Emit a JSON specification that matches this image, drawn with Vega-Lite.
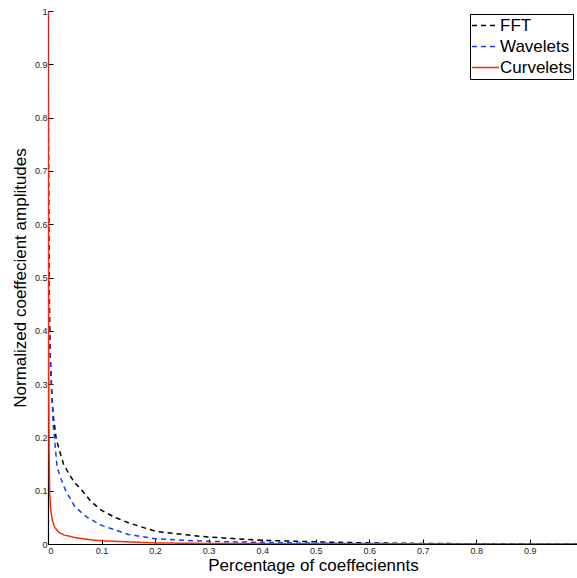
{
  "$schema": "https://vega.github.io/schema/vega-lite/v6.json",
  "autosize": {"type": "none"},
  "padding": {"left": 48, "top": 11, "right": 0, "bottom": 34},
  "width": 530,
  "height": 533,
  "background": "white",
  "config": {
    "view": {"stroke": null},
    "font": "Liberation Sans",
    "axis": {"grid": false, "domainColor": "#000", "tickColor": "#000", "labelColor": "#222", "titleColor": "#000", "labelFont": "Liberation Sans", "titleFont": "Liberation Sans", "titleFontWeight": "normal", "domainWidth": 1.2, "tickWidth": 1}
  },
  "data": {"values": [
    {"x": 0, "y": 1, "s": "FFT"},
    {"x": 0.001, "y": 0.7, "s": "FFT"},
    {"x": 0.002, "y": 0.5, "s": "FFT"},
    {"x": 0.004, "y": 0.36, "s": "FFT"},
    {"x": 0.007, "y": 0.28, "s": "FFT"},
    {"x": 0.01, "y": 0.24, "s": "FFT"},
    {"x": 0.015, "y": 0.2, "s": "FFT"},
    {"x": 0.02, "y": 0.18, "s": "FFT"},
    {"x": 0.029, "y": 0.15, "s": "FFT"},
    {"x": 0.04, "y": 0.13, "s": "FFT"},
    {"x": 0.05, "y": 0.115, "s": "FFT"},
    {"x": 0.064, "y": 0.1, "s": "FFT"},
    {"x": 0.08, "y": 0.08, "s": "FFT"},
    {"x": 0.1, "y": 0.063, "s": "FFT"},
    {"x": 0.125, "y": 0.05, "s": "FFT"},
    {"x": 0.15, "y": 0.04, "s": "FFT"},
    {"x": 0.2, "y": 0.024, "s": "FFT"},
    {"x": 0.25, "y": 0.018, "s": "FFT"},
    {"x": 0.3, "y": 0.013, "s": "FFT"},
    {"x": 0.35, "y": 0.01, "s": "FFT"},
    {"x": 0.4, "y": 0.007, "s": "FFT"},
    {"x": 0.5, "y": 0.004, "s": "FFT"},
    {"x": 0.6, "y": 0.002, "s": "FFT"},
    {"x": 0.7, "y": 0.001, "s": "FFT"},
    {"x": 0.8, "y": 0.0005, "s": "FFT"},
    {"x": 0.9, "y": 0.0002, "s": "FFT"},
    {"x": 0.99, "y": 0, "s": "FFT"},
    {"x": 0, "y": 1, "s": "Wavelets"},
    {"x": 0.001, "y": 0.6, "s": "Wavelets"},
    {"x": 0.002, "y": 0.47, "s": "Wavelets"},
    {"x": 0.003, "y": 0.4, "s": "Wavelets"},
    {"x": 0.0045, "y": 0.34, "s": "Wavelets"},
    {"x": 0.0065, "y": 0.3, "s": "Wavelets"},
    {"x": 0.01, "y": 0.22, "s": "Wavelets"},
    {"x": 0.012, "y": 0.2, "s": "Wavelets"},
    {"x": 0.017, "y": 0.144, "s": "Wavelets"},
    {"x": 0.025, "y": 0.12, "s": "Wavelets"},
    {"x": 0.033, "y": 0.1, "s": "Wavelets"},
    {"x": 0.05, "y": 0.07, "s": "Wavelets"},
    {"x": 0.073, "y": 0.05, "s": "Wavelets"},
    {"x": 0.1, "y": 0.035, "s": "Wavelets"},
    {"x": 0.15, "y": 0.018, "s": "Wavelets"},
    {"x": 0.2, "y": 0.01, "s": "Wavelets"},
    {"x": 0.25, "y": 0.007, "s": "Wavelets"},
    {"x": 0.3, "y": 0.005, "s": "Wavelets"},
    {"x": 0.4, "y": 0.003, "s": "Wavelets"},
    {"x": 0.5, "y": 0.0015, "s": "Wavelets"},
    {"x": 0.6, "y": 0.0008, "s": "Wavelets"},
    {"x": 0.8, "y": 0.0003, "s": "Wavelets"},
    {"x": 0.99, "y": 0, "s": "Wavelets"},
    {"x": 0, "y": 1, "s": "Curvelets"},
    {"x": 0.0005, "y": 0.6, "s": "Curvelets"},
    {"x": 0.001, "y": 0.35, "s": "Curvelets"},
    {"x": 0.002, "y": 0.18, "s": "Curvelets"},
    {"x": 0.003, "y": 0.1, "s": "Curvelets"},
    {"x": 0.005, "y": 0.065, "s": "Curvelets"},
    {"x": 0.008, "y": 0.045, "s": "Curvelets"},
    {"x": 0.012, "y": 0.032, "s": "Curvelets"},
    {"x": 0.02, "y": 0.022, "s": "Curvelets"},
    {"x": 0.03, "y": 0.017, "s": "Curvelets"},
    {"x": 0.05, "y": 0.012, "s": "Curvelets"},
    {"x": 0.08, "y": 0.008, "s": "Curvelets"},
    {"x": 0.1, "y": 0.006, "s": "Curvelets"},
    {"x": 0.15, "y": 0.004, "s": "Curvelets"},
    {"x": 0.2, "y": 0.002, "s": "Curvelets"},
    {"x": 0.3, "y": 0.001, "s": "Curvelets"},
    {"x": 0.5, "y": 0.0004, "s": "Curvelets"},
    {"x": 0.99, "y": 0, "s": "Curvelets"}
  ]},
  "mark": {"type": "line", "strokeWidth": 1.5, "clip": true},
  "encoding": {
    "x": {"field": "x", "type": "quantitative", "scale": {"domain": [0, 0.99], "nice": false, "zero": false},
      "axis": {"title": "Percentage of coeffeciennts", "values": [0, 0.1, 0.2, 0.3, 0.4, 0.5, 0.6, 0.7, 0.8, 0.9], "labelExpr": "datum.value == 0 ? '0' : format(datum.value, '.1f')", "tickSize": -5, "labelPadding": 7, "labelFontSize": 9, "titleFontSize": 17, "titlePadding": 2}},
    "y": {"field": "y", "type": "quantitative", "scale": {"domain": [0, 1], "nice": false},
      "axis": {"title": "Normalized coeffecient amplitudes", "values": [0, 0.1, 0.2, 0.3, 0.4, 0.5, 0.6, 0.7, 0.8, 0.9, 1], "labelExpr": "datum.value == 0 ? '0' : datum.value == 1 ? '1' : format(datum.value, '.1f')", "tickSize": -5, "labelPadding": 6, "labelFontSize": 9, "titleFontSize": 17, "titlePadding": 5}},
    "color": {"field": "s", "type": "nominal", "sort": ["FFT", "Wavelets", "Curvelets"],
      "scale": {"domain": ["FFT", "Wavelets", "Curvelets"], "range": ["#000000", "#1a3cff", "#ff2a0a"]},
      "legend": {"title": null, "orient": "none", "legendX": 422, "legendY": 3, "strokeColor": "#000", "padding": 1, "fillColor": "white", "symbolType": "stroke", "symbolSize": 729, "symbolStrokeWidth": 1.5, "labelFontSize": 17, "labelFont": "Liberation Sans", "labelColor": "#000", "rowPadding": 0, "clipHeight": 21, "labelOffset": 0}},
    "strokeDash": {"field": "s", "type": "nominal", "sort": ["FFT", "Wavelets", "Curvelets"],
      "scale": {"domain": ["FFT", "Wavelets", "Curvelets"], "range": [[5, 4], [5, 4], [1, 0]]},
      "legend": {"title": null, "orient": "none", "legendX": 422, "legendY": 3, "strokeColor": "#000", "padding": 1, "fillColor": "white", "symbolType": "stroke", "symbolSize": 729, "symbolStrokeWidth": 1.5, "labelFontSize": 17, "labelFont": "Liberation Sans", "labelColor": "#000", "rowPadding": 0, "clipHeight": 21, "labelOffset": 0}},
    "order": {"field": "x", "type": "quantitative"}
  }
}
